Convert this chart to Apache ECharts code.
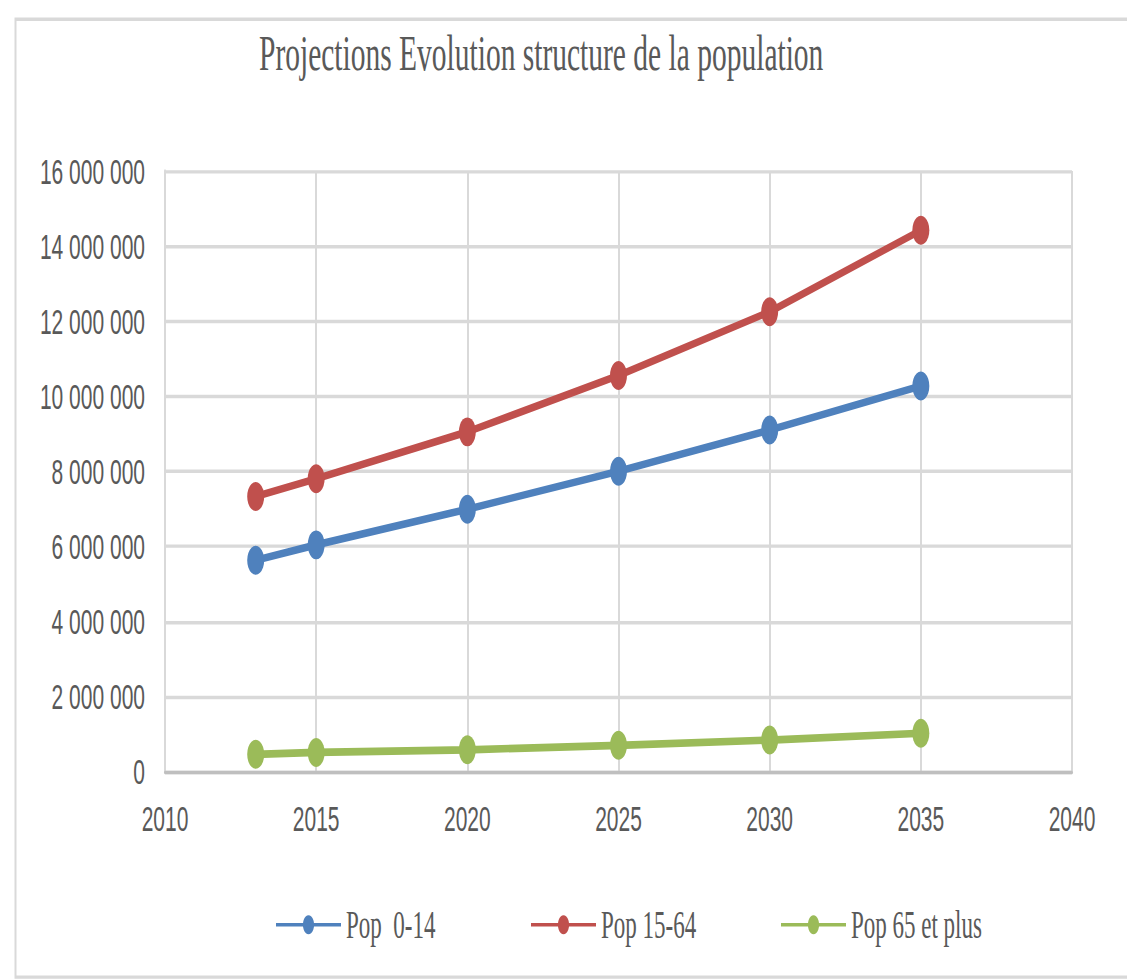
<!DOCTYPE html>
<html>
<head>
<meta charset="utf-8">
<script src="https://cdn.jsdelivr.net/npm/echarts@6/dist/echarts.min.js"></script>
<style>
  html, body { margin: 0; padding: 0; background: #fff; overflow: hidden; }
  #wrap { width: 1127px; height: 980px; overflow: hidden; }
  #chart { width: 1127px; height: 576px; transform-origin: 0 0; transform: scaleY(1.70139); }
</style>
</head>
<body>
<div id="wrap"><div id="chart"></div></div>
<script>
// ---- data ----
const years = [2013, 2015, 2020, 2025, 2030, 2035];
const seriesNames = ['Pop  0-14', 'Pop 15-64', 'Pop 65 et plus'];
const pop0_14 = [5630000, 6040000, 6990000, 8000000, 9100000, 10270000];
const pop15_64 = [7330000, 7800000, 9050000, 10550000, 12250000, 14420000];
const pop65plus = [460000, 510000, 580000, 700000, 840000, 1020000];
const xTicks = [2010, 2015, 2020, 2025, 2030, 2035, 2040];
const yTicks = [0, 2000000, 4000000, 6000000, 8000000, 10000000, 12000000, 14000000, 16000000];
const titleText = 'Projections Evolution structure de la population';

const colors = ['#4f81bd', '#c0504d', '#9bbb59'];
const values = [pop0_14, pop15_64, pop65plus];

const fmt = v => String(Math.round(v)).replace(/\B(?=(\d{3})+(?!\d))/g, ' ');
const sans = '"Liberation Sans", Arial, sans-serif';
const serif = '"Liberation Serif", "Times New Roman", serif';

const chart = echarts.init(document.getElementById('chart'), null, { renderer: 'svg' });

const legendLefts = [270, 525, 775];

chart.setOption({
  animation: false,
  backgroundColor: '#fff',
  color: colors,
  title: {
    text: titleText,
    left: 254,
    top: 11,
    textStyle: { fontFamily: serif, fontSize: 29.5, fontWeight: 'normal', color: '#595959' }
  },
  legend: seriesNames.map((n, i) => ({
    data: [n],
    left: legendLefts[i],
    top: 527,
    itemWidth: 65,
    itemHeight: 14,
    itemGap: 5,
    textStyle: { fontFamily: serif, fontSize: 23, color: '#595959' }
  })),
  graphic: [{
    type: 'rect',
    left: 13, top: 8.8,
    shape: { width: 1200, height: 563 },
    style: { fill: 'none', stroke: '#d9d9d9', lineWidth: 2 },
    silent: true
  }],
  grid: { left: 165, right: 55, top: 100.5, bottom: 122.5, containLabel: false },
  xAxis: {
    type: 'value',
    min: xTicks[0], max: xTicks[xTicks.length - 1], interval: 5,
    axisLine: { show: true, lineStyle: { color: '#bfbfbf', width: 2 } },
    axisTick: { show: false },
    splitLine: { show: true, lineStyle: { color: '#d9d9d9', width: 2 } },
    axisLabel: { formatter: v => String(v), margin: 17, fontFamily: sans, fontSize: 21, color: '#595959' }
  },
  yAxis: {
    type: 'value',
    min: yTicks[0], max: yTicks[yTicks.length - 1], interval: 2000000,
    axisLine: { show: true, lineStyle: { color: '#d9d9d9', width: 2 } },
    axisTick: { show: false },
    splitLine: { show: true, lineStyle: { color: '#d9d9d9', width: 2 } },
    axisLabel: { formatter: fmt, margin: 20, fontFamily: sans, fontSize: 21, color: '#595959' }
  },
  series: seriesNames.map((n, i) => ({
    name: n,
    type: 'line',
    data: years.map((y, k) => [y, values[i][k]]),
    symbol: 'circle',
    symbolSize: 17,
    lineStyle: { width: 4.5, color: colors[i] },
    itemStyle: { color: colors[i] }
  }))
});
</script>
</body>
</html>
